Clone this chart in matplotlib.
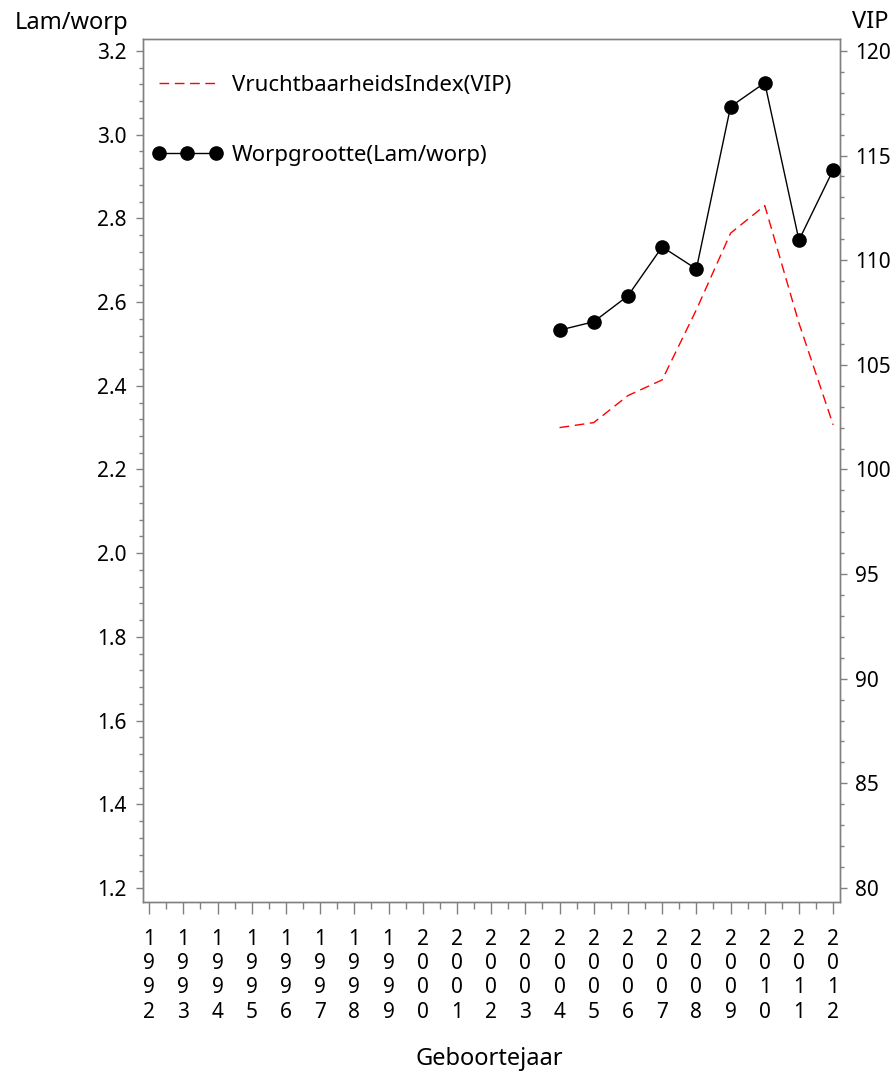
import matplotlib
matplotlib.use("Agg")
import matplotlib.pyplot as plt
from matplotlib.ticker import MultipleLocator

plt.rcParams['font.family'] = ['Noto Sans', 'DejaVu Sans']

# data
years_all = list(range(1992, 2013))
years = [2004, 2005, 2006, 2007, 2008, 2009, 2010, 2011, 2012]
worpgrootte = [2.533, 2.553, 2.615, 2.732, 2.679, 3.067, 3.124, 2.748, 2.916]
vip = [102.0, 102.24, 103.53, 104.28, 107.63, 111.29, 112.61, 106.99, 102.13]

grey = '#808080'
fs_tick = 15
fs_lab = 17
fs_leg = 16

fig = plt.figure(figsize=(8.94, 10.73), dpi=100)
ax = fig.add_axes([143/894, 171/1073, (840-143)/894, (902-39)/1073])
ax2 = ax.twinx()

# left axis: worpgrootte
l2, = ax.plot(years, worpgrootte, color='black', lw=1.0, marker='o',
              markersize=9.5, zorder=3, label='Worpgrootte(Lam/worp)')
# right axis: VIP
l1, = ax2.plot(years, vip, color='red', lw=1.0, ls=(0, (7, 4)),
               label='VruchtbaarheidsIndex(VIP)')

ax.set_xlim(1991.82, 2012.2)
ax.set_ylim(1.1665, 3.2287)
ax2.set_ylim(79.33, 120.57)

ax.set_xticks(years_all)
ax.set_xticklabels(['\n'.join(str(y)) for y in years_all], fontsize=fs_tick)
ax.xaxis.set_minor_locator(MultipleLocator(0.5))
ax.yaxis.set_major_locator(MultipleLocator(0.2))
ax.yaxis.set_minor_locator(MultipleLocator(0.04))
ax.set_yticklabels([f'{v:.1f}' for v in ax.get_yticks()])
ax2.yaxis.set_major_locator(MultipleLocator(5))
ax2.yaxis.set_minor_locator(MultipleLocator(1))

ax.tick_params(axis='x', which='major', length=8.5, width=1, color=grey, pad=11, labelsize=fs_tick)
ax.tick_params(axis='x', which='minor', length=5, width=1, color=grey)
ax.tick_params(axis='y', which='major', length=5, width=1, color=grey, pad=7, labelsize=fs_tick)
ax.tick_params(axis='y', which='minor', length=3, width=1, color=grey)
ax2.tick_params(axis='y', which='major', length=5, width=1, color=grey, pad=6, labelsize=fs_tick)
ax2.tick_params(axis='y', which='minor', length=3, width=1, color=grey)

for a in (ax, ax2):
    for s in a.spines.values():
        s.set_color(grey)
        s.set_linewidth(1)

ax2.set_zorder(ax.get_zorder() - 1)
ax.patch.set_visible(False)

ax.legend([l1, l2], [l1.get_label(), l2.get_label()], loc='upper left',
          bbox_to_anchor=(0.0, 0.969), frameon=False, fontsize=fs_leg,
          numpoints=3, handlelength=3.2, labelspacing=2.2, handletextpad=0.4,
          borderaxespad=0.0)

fig.text(15/894, 1 - 23/1073, 'Lam/worp', fontsize=fs_lab, ha='left', va='center')
fig.text(852/894, 1 - 22/1073, 'VIP', fontsize=fs_lab, ha='left', va='center')
fig.text(489/894, 1 - 1059/1073, 'Geboortejaar', fontsize=fs_lab, ha='center', va='center')

fig.savefig('out.png', dpi=100)
